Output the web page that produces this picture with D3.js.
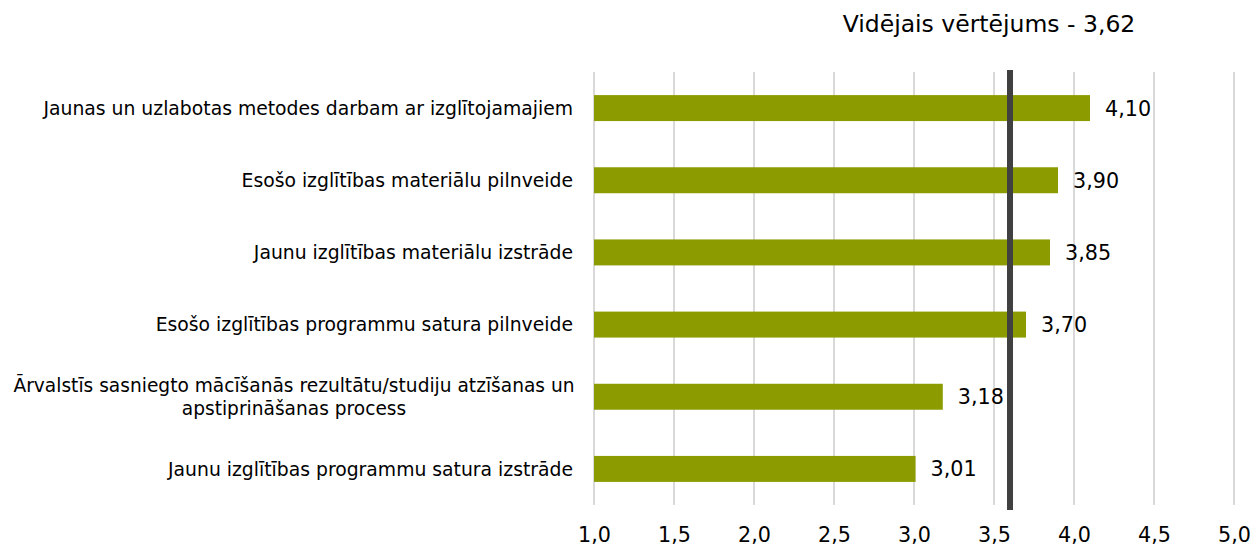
<!DOCTYPE html>
<html>
<head>
<meta charset="utf-8">
<script src="https://cdn.jsdelivr.net/npm/d3@7"></script>
<style>
  html, body { margin: 0; padding: 0; background: #fff; }
  svg text { font-family: "DejaVu Sans", sans-serif; fill: #000; }
</style>
</head>
<body>
<svg id="chart" width="1251" height="549"></svg>
<script>
const categories = [
  "Jaunas un uzlabotas metodes darbam ar izglītojamajiem",
  "Esošo izglītības materiālu pilnveide",
  "Jaunu izglītības materiālu izstrāde",
  "Esošo izglītības programmu satura pilnveide",
  "Ārvalstīs sasniegto mācīšanās rezultātu/studiju atzīšanas un|apstiprināšanas process",
  "Jaunu izglītības programmu satura izstrāde"
];
const values = [4.10, 3.90, 3.85, 3.70, 3.18, 3.01];
const valueLabels = ["4,10", "3,90", "3,85", "3,70", "3,18", "3,01"];
const tickValues = [1.0, 1.5, 2.0, 2.5, 3.0, 3.5, 4.0, 4.5, 5.0];
const tickLabels = ["1,0", "1,5", "2,0", "2,5", "3,0", "3,5", "4,0", "4,5", "5,0"];
const meanLabel = "Vidējais vērtējums - 3,62";
const meanLineValue = [3.6];

const svg = d3.select("#chart");
const x = d3.scaleLinear().domain([1, 5]).range([594, 1234]);
const y = d3.scaleBand().domain(categories).range([72, 505]).paddingInner(0.64).paddingOuter(0.32);

// gridlines
svg.append("g").selectAll("line").data(tickValues).join("line")
  .attr("x1", d => x(d)).attr("x2", d => x(d))
  .attr("y1", 72).attr("y2", 505)
  .attr("stroke", "#d9d9d9").attr("stroke-width", 2);

// x axis labels
const xAxis = d3.axisBottom(x).tickValues(tickValues)
  .tickFormat((d, i) => tickLabels[i]).tickSize(0).tickPadding(0);
const gx = svg.append("g").attr("transform", "translate(0,527)").call(xAxis);
gx.select(".domain").remove();
gx.selectAll("text").attr("font-size", 20.7)
  .style("font-family", '"DejaVu Sans", sans-serif').attr("fill", "#000");

// bars
svg.append("g").selectAll("rect").data(values).join("rect")
  .attr("x", x(1))
  .attr("y", (d, i) => y(categories[i]))
  .attr("width", d => x(d) - x(1))
  .attr("height", y.bandwidth())
  .attr("fill", "#8c9c00");

// mean line
svg.append("g").selectAll("line").data(meanLineValue).join("line")
  .attr("x1", d => x(d)).attr("x2", d => x(d))
  .attr("y1", 70).attr("y2", 510)
  .attr("stroke", "#404040").attr("stroke-width", 6);

// value labels
svg.append("g").selectAll("text").data(values).join("text")
  .attr("x", d => x(d) + 15)
  .attr("y", (d, i) => y(categories[i]) + y.bandwidth() / 2)
  .attr("dy", "0.36em")
  .attr("font-size", 20.7)
  .text((d, i) => valueLabels[i]);

// category labels
const cg = svg.append("g");
categories.forEach((c, i) => {
  const lines = c.split("|");
  const cy = y(c) + y.bandwidth() / 2;
  if (lines.length === 1) {
    cg.append("text").attr("x", 573).attr("y", cy).attr("dy", "0.36em")
      .attr("text-anchor", "end").attr("font-size", 18.8).text(lines[0]);
  } else {
    lines.forEach((l, j) => {
      cg.append("text").attr("x", 294).attr("y", cy + (j - 0.5) * 23).attr("dy", "0.36em")
        .attr("text-anchor", "middle").attr("font-size", 18.6).text(l);
    });
  }
});

// mean label
svg.append("text").attr("x", 989).attr("y", 24).attr("dy", "0.36em")
  .attr("text-anchor", "middle").attr("font-size", 23.5).text(meanLabel);
</script>
</body>
</html>
